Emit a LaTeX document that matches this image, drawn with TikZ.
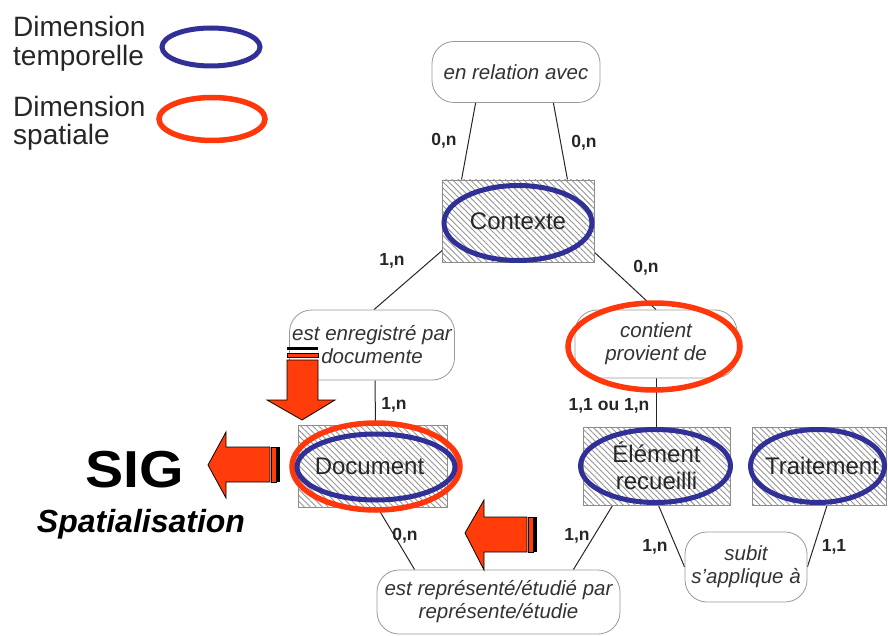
\documentclass[tikz,border=0pt]{standalone}
\usepackage{fontspec}
\setmainfont{Liberation Sans}
\usepackage{graphicx}
\usetikzlibrary{patterns.meta,shapes.geometric,calc,backgrounds}
\definecolor{tblue}{RGB}{48,48,150}
\definecolor{tred}{RGB}{255,55,10}
\definecolor{arred}{RGB}{255,60,10}
\definecolor{hatchc}{RGB}{150,150,150}
\begin{document}
\begin{tikzpicture}[x=1pt,y=-1pt,
 entity/.style={rectangle, draw=gray!90, line width=0.8pt, preaction={fill=white},
   pattern={Lines[angle=-45,distance=4.2pt,line width=0.9pt]}, pattern color=hatchc,
   font=\fontsize{24}{27}\selectfont, text=black!85, align=center, inner sep=0pt},
 relation/.style={rectangle, rounded corners=22pt, draw=gray!80, line width=0.8pt, fill=white,
   font=\itshape\fontsize{20.5}{23}\selectfont, text=black!80, align=center, inner sep=0pt},
 card/.style={font=\bfseries\fontsize{17.5}{20}\selectfont, text=black!85, inner sep=0pt},
 link/.style={line width=1pt, draw=black!85},
 tring/.style={ellipse, draw=tblue, line width=5pt, inner sep=0pt},
 sring/.style={ellipse, draw=tred, line width=5.5pt, inner sep=0pt},
 blockarrow/.style={fill=arred, draw=black, line width=0.8pt, line join=miter},
 legend/.style={anchor=base west, font=\fontsize{28}{30}\selectfont, inner sep=0pt, text=black!85}]
\useasboundingbox (0,0) rectangle (888,636);

% legend
\node[legend] (l1) at (13,37) {Dimension};
\node[legend] (l2) at (13,66) {temporelle};
\node[legend] (l3) at (13,117) {Dimension};
\node[legend] (l4) at (13,145) {spatiale};
\node[tring, minimum width=98pt, minimum height=38pt] (legT) at (211,47) {};
\node[sring, minimum width=106pt, minimum height=43pt] (legS) at (212,119) {};

% relations
\node[relation, minimum width=168pt, minimum height=61pt] (rel1) at (516,72) {en relation avec};
\node[relation, minimum width=165pt, minimum height=70pt] (rel2) at (372,345) {est enregistré par\\documente};
\node[relation, minimum width=162pt, minimum height=68pt] (rel3) at (656,344) {contient\\provient de};
\node[relation, minimum width=122pt, minimum height=70pt] (rel4) at (746,567) {subit\\s'applique à};
\node[relation, minimum width=243pt, minimum height=64pt] (rel5) at (498.5,602) {est représenté/étudié par\\représente/étudie};

% entities
\node[entity, minimum width=152pt, minimum height=82pt] (ctx) at (518,221) {Contexte};
\node[entity, minimum width=149pt, minimum height=82pt] (doc) at (372.5,466) {\hspace*{-6pt}Document};
\node[entity, minimum width=147pt, minimum height=78pt] (elem) at (656.5,466) {Élément\\recueilli};
\node[entity, minimum width=134pt, minimum height=78pt] (trait) at (819,466) {\hspace*{6pt}Traitement};

% connectors
\begin{pgfonlayer}{background}
\draw[link] ($(rel1.south west)+(44,0)$) -- ($(ctx.north west)+(20,0)$);
\draw[link] ($(rel1.south east)+(-47,0)$) -- ($(ctx.north east)+(-27,0)$);
\draw[link] ($(ctx.south west)+(3,-14)$) -- ($(rel2.north)+(2,0)$);
\draw[link] ($(ctx.south east)+(-2,-12)$) -- (rel3.north);
\draw[link] ($(rel2.south)+(3,0)$) -- ($(doc.north)+(3,0)$);
\draw[link] (rel3.south) -- (rel3.south |- elem.north);
\draw[link] ($(doc.south)+(5,0)$) -- ($(rel5.north west)+(38,0)$);
\draw[link] ($(elem.south west)+(30,0)$) -- ($(rel5.north east)+(-47,0)$);
\draw[link] ($(elem.south)+(2,0)$) -- (rel4.west);
\draw[link] ($(trait.south)+(8,0)$) -- (rel4.east);
\end{pgfonlayer}

% cardinalities
\node[card] (c1) at (444,141) {0,n};
\node[card] (c2) at (584,143) {0,n};
\node[card] (c3) at (392,261) {1,n};
\node[card] (c4) at (646,268) {0,n};
\node[card] (c5) at (394,405) {1,n};
\node[card] (c6) at (609,406) {1,1 ou 1,n};
\node[card] (c7) at (405,536) {0,n};
\node[card] (c8) at (577,536) {1,n};
\node[card] (c9) at (655,547) {1,n};
\node[card] (c10) at (834,547) {1,1};

% dimension rings
\node[tring, minimum width=148pt, minimum height=75pt] (ctxT) at (518,223) {};
\node[sring, minimum width=168pt, minimum height=87pt] (docS) at (376,466.5) {};
\node[tring, minimum width=158pt, minimum height=66pt] (docT) at (376,467) {};
\node[sring, minimum width=172pt, minimum height=87pt] (rel3S) at (654,346.5) {};
\node[tring, minimum width=150pt, minimum height=73pt] (elemT) at (655.5,466) {};
\node[tring, minimum width=134pt, minimum height=73pt] (traitT) at (817.5,466) {};

% SIG
\node[font=\bfseries\fontsize{52}{52}\selectfont, anchor=base, inner sep=0pt] (sig) at (135,487) {\scalebox{1.1}[1]{SIG}};
\node[font=\bfseries\itshape\fontsize{32}{32}\selectfont, anchor=base, inner sep=0pt] (spat) at (141,532) {Spatialisation};

% block arrows
% left arrow to SIG
\draw[blockarrow] (208,465) -- (226,432) -- (226,447) -- (270,447) -- (270,482) -- (226,482) -- (226,498) -- cycle;
\draw[fill=arred, draw=black, line width=0.8pt] (271,447) rectangle (276,482);
\fill[black] (276,447) rectangle (280,482);
% left arrow bottom
\draw[blockarrow] (465,533) -- (484,500) -- (484,517) -- (527,517) -- (527,552) -- (484,552) -- (484,570) -- cycle;
\draw[fill=arred, draw=black, line width=0.8pt] (528,517) rectangle (533,552);
\fill[black] (533,517) rectangle (537,552);
% down arrow
\draw[blockarrow] (302,420) -- (267,400) -- (287,400) -- (287,360) -- (318,360) -- (318,400) -- (335,400) -- cycle;
\draw[fill=arred, draw=black, line width=0.8pt] (287,353) rectangle (318,357.5);
\fill[black] (287,347) rectangle (318,349.5);
\end{tikzpicture}
\end{document}
